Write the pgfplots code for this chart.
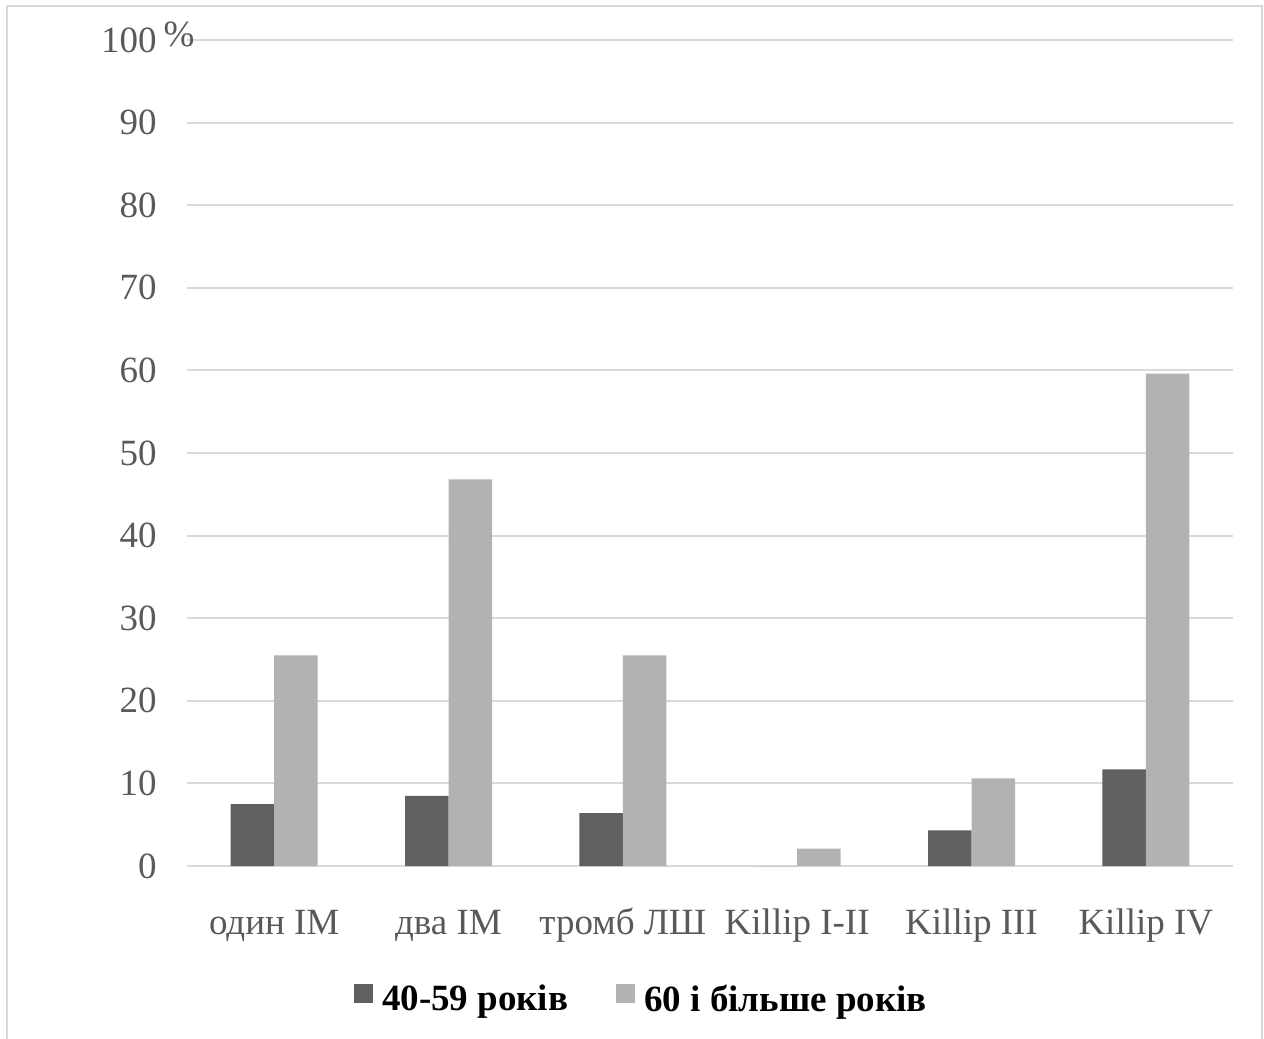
\documentclass[border=0pt]{standalone}
\usepackage{pgfplots}
\pgfplotsset{compat=1.18}
\usepackage{fontspec}
\setmainfont{Liberation Serif}

\definecolor{darkbar}{HTML}{606060}
\definecolor{lightbar}{HTML}{B2B2B2}
\definecolor{gridgray}{HTML}{D9D9D9}
\definecolor{labelgray}{HTML}{595959}

\begin{document}
\begin{tikzpicture}
\useasboundingbox (0,0) rectangle (632pt,519.5pt);
% outer frame of the chart
\draw[gridgray, line width=1pt] (3.5pt,0) -- (3.5pt,516.5pt) -- (631pt,516.5pt) -- (631pt,0);
\begin{axis}[
  at={(93.5pt,86.5pt)}, anchor=south west,
  scale only axis,
  width=523pt, height=413pt,
  ybar=0pt, bar width=21.75pt,
  xmin=-0.5, xmax=5.5,
  ymin=0, ymax=100,
  xtick={0,1,2,3,4,5},
  xticklabels={один ІМ, два ІМ, тромб ЛШ, Killip I-II, Killip III, Killip IV},
  ytick={0,10,...,100},
  axis line style={draw=none},
  major tick length=0pt,
  ymajorgrids,
  major grid style={gridgray, line width=1pt},
  tick label style={font=\fontsize{18.5}{22}\selectfont, text=labelgray},
  /pgf/number format/assume math mode=true,
  yticklabel style={anchor=east, inner sep=0pt, xshift=-15pt},
  xticklabel style={anchor=base, inner sep=0pt, yshift=-34pt},
  legend columns=2,
  legend image code/.code={\fill[#1] (0pt,-1.5pt) rectangle (9.5pt,8pt);},
  legend style={draw=none, fill=none, inner sep=0pt, outer sep=0pt,
    nodes={inner sep=0pt},
    font=\fontsize{18.5}{22}\selectfont\bfseries,
    at={(0.1597,-0.1610)}, anchor=west,
    /tikz/every odd column/.append style={column sep=4.5pt},
    /tikz/every even column/.append style={column sep=24pt}},
  clip=false,
]
\addplot[fill=darkbar, draw=none] coordinates {(0,7.5) (1,8.5) (2,6.4) (3,0) (4,4.3) (5,11.7)};
\addplot[fill=lightbar, draw=none] coordinates {(0,25.5) (1,46.8) (2,25.5) (3,2.1) (4,10.6) (5,59.6)};
\legend{40-59 років, 60 і більше років}
\node[font=\fontsize{18.5}{22}\selectfont, text=labelgray, inner sep=0pt]
  at (axis description cs:0,1) [xshift=-4pt, yshift=2.9pt] {\%};
\end{axis}
\end{tikzpicture}
\end{document}
